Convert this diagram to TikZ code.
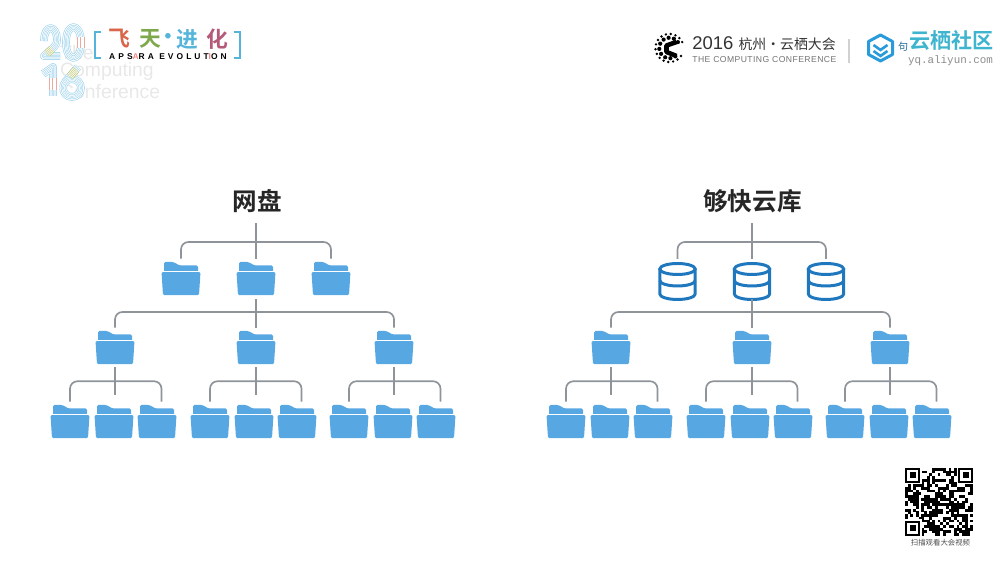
\documentclass[tikz,border=0pt]{standalone}
\usepackage{fontspec}
\setmainfont{Liberation Sans}
\setmonofont{Liberation Mono}
\newfontfamily\cjk{Noto Sans CJK SC}
\newfontfamily\cjkb{Noto Sans CJK SC Bold}
\usepackage{tikz}
\usetikzlibrary{arrows.meta, positioning, calc}

\definecolor{folderblue}{HTML}{57A7E2}
\definecolor{discblue}{HTML}{1F78BE}
\definecolor{linkgray}{HTML}{8E9499}
\definecolor{ringblue}{HTML}{A4D6EE}
\definecolor{ringpink}{HTML}{EDA9A0}
\definecolor{ringgreen}{HTML}{C3CC7A}
\definecolor{tealtext}{HTML}{3FB4CE}
\definecolor{hexblue}{HTML}{2A9BDA}
\definecolor{bracketblue}{HTML}{55B4DA}

% concentric strokes of the year digits
\newcommand{\ringstroke}[2]{
    \foreach \w/\c in {4.4pt/#1, 3.6pt/white, 2.6pt/#1, 1.8pt/white, 0.9pt/#1, 0.3pt/white}
        \draw[line width=\w, draw=\c, line join=round] #2;
}

\begin{document}
\begin{tikzpicture}[
                folder/.style ={minimum width=0.78cm, minimum height=0.67cm, inner sep=0pt,
                        outer sep=0.06cm, path picture={
                        \begin{scope}[shift={(path picture bounding box.center)}]
                        \fill[folderblue, rounded corners=0.03cm] (-0.34,0.08) -- (-0.34,0.33) -- (-0.15,0.33)
                        -- (-0.03,0.26) -- (0.34,0.26) -- (0.34,0.08) -- cycle;
                        \fill[folderblue, rounded corners=0.03cm] (-0.39,0.135) -- (0.39,0.135) -- (0.36,-0.335) -- (-0.36,-0.335) -- cycle;
                        \draw[white, line width=0.2pt] (-0.39,0.145) -- (0.39,0.145);
                        \end{scope}}},
                disc/.style   ={minimum width=0.78cm, minimum height=0.78cm, inner sep=0pt,
                        outer sep=0.06cm, path picture={
                        \begin{scope}[shift={(path picture bounding box.center)}, discblue, line width=1.7pt]
                        \draw (0,0.25) ellipse (0.354 and 0.11);
                        \draw (-0.354,0.25) -- (-0.354,-0.25) arc[start angle=180, end angle=360, x radius=0.354, y radius=0.11] -- (0.354,0.25);
                        \draw (-0.354,0.02) arc[start angle=180, end angle=360, x radius=0.354, y radius=0.11];
                        \end{scope}}},
                link/.style   ={draw=linkgray, line width=0.95pt, rounded corners=0.15cm},
                title/.style  ={font=\cjkb\fontsize{14}{14}\selectfont, text=black!85},
                faded/.style  ={font=\fontsize{11}{11}\selectfont, text=black!9, anchor=west},
                feitian/.style={font=\cjkb\fontsize{12.4}{12.4}\selectfont},
                qrcell/.style ={fill=black}
            ]
            \useasboundingbox (0,0) rectangle (20,11.26);

            %% ---- titles --------------------------------------------------------
            \node[title] (disk) at (5.15,7.24) {网盘};
            \node[title] (lib) at (15.05,7.24) {够快云库};

            %% ---- top level of both trees ---------------------------------------
            \foreach \name/\x in {a/3.62, b/5.12, c/6.62}
                \node[folder] (top\name) at (\x,5.69) {};
            \foreach \name/\x in {a/13.55, b/15.04, c/16.52}
                \node[disc] (db\name) at (\x,5.63) {};
            \coordinate (rootl) at (5.12,6.80);
            \coordinate (rootr) at (15.04,6.80);
            \draw[link] (rootl) -- (topb.north);
            \draw[link] (topa.north) |- ([yshift=-0.38cm]rootl) -| (topc.north);
            \draw[link] (rootr) -- (dbb.north);
            \draw[link] (dba.north) |- ([yshift=-0.38cm]rootr) -| (dbc.north);

            %% ---- lower levels, same on both sides ------------------------------
            \foreach \tree/\dx in {l/0, r/9.92} {
                \begin{scope}[xshift=\dx cm, name prefix=\tree-]
                    \foreach \name/\x in {p/2.30, q/5.12, r/7.88}
                        \node[folder] (\name) at (\x,4.31) {};
                    \foreach \name/\x in {p1/1.40, p2/2.28, p3/3.14, q1/4.20, q2/5.08, q3/5.94, r1/6.98, r2/7.86, r3/8.72}
                        \node[folder] (\name) at (\x,2.83) {};
                    \coordinate (stem) at (5.12,5.28);
                    \draw[link] (stem) -- (q.north);
                    \draw[link] (p.north) |- ([yshift=-0.26cm]stem) -| (r.north);
                    \foreach \name in {p, q, r} {
                        \draw[link] (\name.south) -- ([yshift=-0.56cm]\name.south);
                        \draw[link] (\name1.north) |- ([yshift=-0.28cm]\name.south) -| ([xshift=0.09cm]\name3.north);
                    }
                \end{scope}
            }

            %% ---- logo, top left ------------------------------------------------
            \node[faded] (the) at (1.08,10.2) {The};
            \node[faded] (cmp) at (1.08,9.82) {Computing};
            \node[faded] (cnf) at (1.08,9.42) {Conference};
            \ringstroke{ringblue}{(0.88,10.44) .. controls (0.88,10.78) and (1.14,10.78) .. (1.14,10.46) .. controls (1.14,10.38) and (1.10,10.34) .. (1.06,10.30) -- (0.88,10.14) -- (1.20,10.14)}
            \ringstroke{ringgreen}{(1.04,10.28) -- (0.94,10.19)}
            \ringstroke{ringblue}{(1.32,10.41) .. controls (1.32,10.82) and (1.62,10.82) .. (1.62,10.41) .. controls (1.62,10.00) and (1.32,10.00) .. (1.32,10.41) -- cycle}
            \ringstroke{ringpink}{(1.62,10.52) -- (1.62,10.30)}
            \ringstroke{ringblue}{(0.86,9.78) -- (1.06,9.92) -- (1.06,9.34)}
            \ringstroke{ringpink}{(1.06,9.70) -- (1.06,9.46)}
            \ringstroke{ringblue}{(1.56,9.92) -- (1.30,9.62)}
            \ringstroke{ringblue}{(1.26,9.50) arc[start angle=180, end angle=540, radius=0.18]}
            \ringstroke{ringgreen}{(1.40,9.73) -- (1.52,9.87)}

            \draw[bracketblue, line width=1.2pt] (2.02,10.62) -- (1.90,10.62) -- (1.90,10.10) -- (2.02,10.10);
            \draw[bracketblue, line width=1.2pt] (4.68,10.62) -- (4.80,10.62) -- (4.80,10.10) -- (4.68,10.10);
            \node[feitian, text={rgb,255:red,217;green,102;blue,74}] (fei) at (2.38,10.48) {飞};
            \node[feitian, text={rgb,255:red,127;green,168;blue,76}] (tian) at (3.00,10.48) {天};
            \node[feitian, text=bracketblue] (dot) at (3.36,10.48) {·};
            \node[feitian, text=bracketblue] (jin) at (3.75,10.48) {进};
            \node[feitian, text={rgb,255:red,180;green,90;blue,120}] (hua) at (4.34,10.48) {化};
            \node[font=\bfseries\fontsize{4.8}{4.8}\selectfont\addfontfeature{LetterSpace=36}] (evo) at (3.36,10.12)
                {APS\textcolor{ringpink!80!red}{A}RA EVOLUT\textcolor{ringpink!80!red}{I}ON};

            %% ---- logo, top right -----------------------------------------------
            \foreach \a in {25,45,...,335}
                \fill (13.39,10.30) ++(\a:0.28) circle (0.027);
            \foreach \a in {35,65,...,325}
                \fill (13.39,10.30) ++(\a:0.205) circle (0.042);
            \draw[line width=2.6pt, line join=round] (13.53,10.42) -- (13.33,10.35) -- (13.33,10.22) -- (13.53,10.14);
            \node[anchor=west, inner sep=0pt, font=\fontsize{10.5}{10.5}\selectfont, text=black!80] (year) at (13.84,10.38)
                {2016 {\cjk\fontsize{7.9}{7.9}\selectfont 杭州·云栖大会}};
            \node[anchor=west, inner sep=0pt, font=\fontsize{4.9}{4.9}\selectfont\addfontfeature{LetterSpace=5}, text=black!55] (conf) at (13.84,10.06)
                {THE COMPUTING CONFERENCE};
            \draw[black!18, line width=0.6pt] (16.98,10.48) -- (16.98,10.00);

            \draw[hexblue, line width=1.7pt, line join=round] (17.61,10.56) -- (17.85,10.43) -- (17.85,10.17)
                -- (17.61,10.04) -- (17.37,10.17) -- (17.37,10.43) -- cycle;
            \draw[hexblue, line width=1.5pt] (17.47,10.36) -- (17.61,10.26) -- (17.75,10.36);
            \draw[hexblue, line width=1.5pt] (17.47,10.24) -- (17.61,10.14) -- (17.75,10.24);
            \node[font=\cjk\fontsize{5.7}{5.7}\selectfont, text=hexblue!70!black, inner sep=0pt] (ju) at (18.06,10.32) {句};
            \node[font=\cjkb\fontsize{12}{12}\selectfont, text=tealtext, inner sep=0pt] (yunqi) at (19.03,10.44) {云栖社区};
            \node[font=\ttfamily\fontsize{6.2}{6.2}\selectfont, text=black!45, inner sep=0pt] (url) at (19.01,10.04) {yq.aliyun.com};

            %% ---- QR code, bottom right -----------------------------------------
            \pgfmathsetseed{2016}
            \foreach \i in {0,...,24}
                \foreach \j in {0,...,24} {
                    \pgfmathparse{rnd<0.55 ? 1 : 0}
                    \ifnum\pgfmathresult=1
                        \fill[qrcell] (18.10+\i*0.0544,0.54+\j*0.0544) rectangle ++(0.056,0.056);
                    \fi
                }
            \foreach \x/\y in {18.10/1.60, 19.16/1.60, 18.10/0.54} {
                \fill[white] (\x-0.03,\y-0.03) rectangle ++(0.36,0.36);
                \fill[qrcell] (\x,\y) rectangle ++(0.30,0.30);
                \fill[white] (\x+0.045,\y+0.045) rectangle ++(0.21,0.21);
                \fill[qrcell] (\x+0.09,\y+0.09) rectangle ++(0.12,0.12);
            }
            \node[font=\cjk\fontsize{4.2}{4.2}\selectfont, text=black!70, inner sep=0pt] (scan) at (18.81,0.40) {扫描观看大会视频};
        \end{tikzpicture}
\end{document}
